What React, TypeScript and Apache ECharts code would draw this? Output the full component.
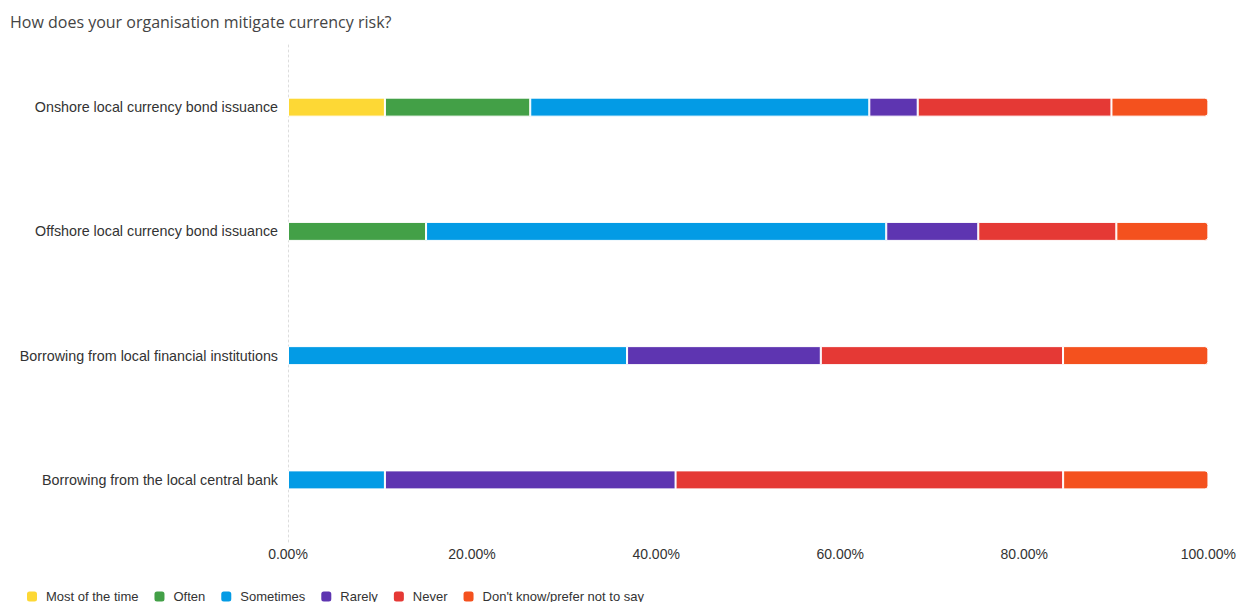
import React, { useEffect, useRef } from "react";
import * as echarts from "echarts";

const title = "How does your organisation mitigate currency risk?";
const categories = [
  "Onshore local currency bond issuance",
  "Offshore local currency bond issuance",
  "Borrowing from local financial institutions",
  "Borrowing from the local central bank",
];
const seriesNames = ["Most of the time", "Often", "Sometimes", "Rarely", "Never", "Don't know/prefer not to say"];
const colors = ["#FDD835", "#43A047", "#039BE5", "#5E35B1", "#E53935", "#F4511E"];
const mostOfTheTime = [10.53, 0, 0, 0];
const often = [15.79, 15.0, 0, 0];
const sometimes = [36.84, 50.0, 36.84, 10.53];
const rarely = [5.26, 10.0, 21.05, 31.58];
const never = [21.05, 15.0, 26.32, 42.11];
const dontKnow = [10.53, 10.0, 15.79, 15.79];
const xTicks = [0, 20, 40, 60, 80, 100];

export default function App() {
  const ref = useRef<HTMLDivElement>(null);
  useEffect(() => {
    if (!ref.current) return;
    const chart = echarts.init(ref.current, undefined, { renderer: "svg" });
    const values = [mostOfTheTime, often, sometimes, rarely, never, dontKnow];
    const series = seriesNames.map((name, i) => ({
      name,
      type: "bar" as const,
      stack: "total",
      barWidth: 19,
      data: values[i].map((v) => (v === 0 ? null : v)),
      itemStyle: {
        color: colors[i],
        borderColor: "#ffffff",
        borderWidth: 1,
        borderRadius: i === values.length - 1 ? [0, 3, 3, 0] : 0,
      },
    }));
    chart.setOption({
      animation: false,
      title: {
        text: title,
        left: 5,
        top: 9,
        textStyle: { fontFamily: "Open Sans", fontSize: 16, fontWeight: "normal", color: "#444" },
      },
      legend: {
        data: seriesNames,
        left: 27,
        top: 590,
        padding: 0,
        itemWidth: 10,
        itemHeight: 10,
        itemGap: 16,
        icon: "roundRect",
        itemStyle: { borderWidth: 0 },
        textStyle: { fontFamily: "Liberation Sans", fontSize: 13, color: "#333", padding: [0, 0, 0, 4] },
      },
      grid: { left: 288, right: 28, top: 45, height: 497, containLabel: false },
      xAxis: {
        type: "value",
        min: 0,
        max: 100,
        interval: 20,
        axisLine: { show: false },
        axisTick: { show: false },
        splitLine: { show: false },
        axisLabel: {
          margin: 5,
          fontFamily: "Liberation Sans",
          fontSize: 14,
          color: "#333",
          formatter: (v: number) => (xTicks.includes(v) ? v.toFixed(2) + "%" : ""),
        },
      },
      yAxis: {
        type: "category",
        inverse: true,
        data: categories,
        axisLine: { show: true, lineStyle: { color: "#ddd", type: [2, 3], width: 1 } },
        axisTick: { show: false },
        axisLabel: { margin: 10, fontFamily: "Liberation Sans", fontSize: 14.3, color: "#333" },
      },
      series,
    });
    return () => chart.dispose();
  }, []);
  return (
    <div
      ref={ref}
      style={{ position: "fixed", left: 0, top: 0, width: 1239, height: 602, background: "#fff" }}
    />
  );
}
